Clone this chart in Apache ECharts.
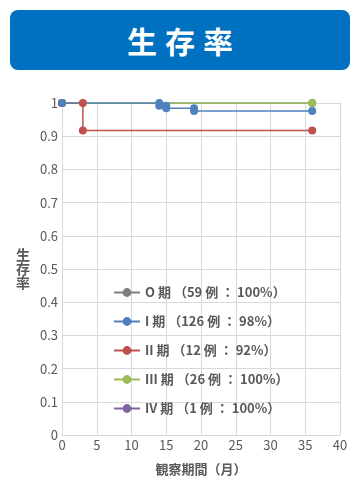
<!DOCTYPE html>
<html><head><meta charset="utf-8">
<script src="https://cdn.jsdelivr.net/npm/echarts@6/dist/echarts.min.js"></script>
<style>
html,body{margin:0;padding:0;background:#fff;}
#wrap{position:relative;width:360px;height:504px;}
#banner{position:absolute;left:10px;top:10px;width:340px;height:60px;background:#0070C0;border-radius:8px;color:#fff;font-family:"Noto Sans CJK JP";font-weight:bold;font-size:30px;line-height:60px;text-align:center;letter-spacing:8px;text-indent:8px;}
#chart{position:absolute;left:0;top:0;width:360px;height:504px;}
</style></head>
<body><div id="wrap"><div id="chart"></div><div id="banner">生存率</div></div>
<script>
const seriesNames = ["O 期 （59 例 ： 100%）","I 期 （126 例 ： 98%）","II 期 （12 例 ： 92%）","III 期 （26 例 ： 100%）","IV 期 （1 例 ： 100%）"];
const colors = ["#7F7F7F","#4F81BD","#C0504D","#9BBB59","#8064A2"];
// Kaplan-Meier step vertices (months, survival)
const stage0Time = [0, 36];
const stage0Surv = [1, 1];
const stage1Time = [0, 14, 14, 15, 15, 19, 19, 36];
const stage1Surv = [1, 1, 0.992, 0.992, 0.984, 0.984, 0.976, 0.976];
const stage2Time = [0, 3, 3, 36];
const stage2Surv = [1, 1, 0.917, 0.917];
const stage3Time = [0, 36];
const stage3Surv = [1, 1];
const stage4Time = [0];
const stage4Surv = [1];
const xTicks = {min:0, max:40, interval:5};
const yTicks = {min:0, max:1, interval:0.1};

const times = [stage0Time, stage1Time, stage2Time, stage3Time, stage4Time];
const survs = [stage0Surv, stage1Surv, stage2Surv, stage3Surv, stage4Surv];
const order = [0, 4, 3, 2, 1];
const chart = echarts.init(document.getElementById('chart'));
const font = '"Noto Sans CJK JP", sans-serif';
chart.setOption({
  animation:false,
  grid:{left:62, right:20, top:103, bottom:69},
  legend:{
    orient:'vertical', left:108, top:281, itemGap:16, itemWidth:26, itemHeight:11,
    data:seriesNames,
    textStyle:{fontFamily:font, fontWeight:'bold', fontSize:13, color:'#595959'}
  },
  xAxis:{type:'value', min:xTicks.min, max:xTicks.max, interval:xTicks.interval,
    name:'観察期間（月）', nameLocation:'middle', nameGap:28,
    nameTextStyle:{fontFamily:font, fontWeight:'bold', fontSize:13, color:'#595959'},
    axisLine:{lineStyle:{color:'#D9D9D9'}}, axisTick:{show:false},
    axisLabel:{fontFamily:font, fontSize:13, color:'#595959', margin:4},
    splitLine:{show:true, lineStyle:{color:'#D9D9D9'}}},
  yAxis:{type:'value', min:yTicks.min, max:yTicks.max, interval:yTicks.interval,
    name:'生\n存\n率', nameLocation:'middle', nameGap:32, nameRotate:0,
    nameTextStyle:{fontFamily:font, fontWeight:'bold', fontSize:14, color:'#595959', lineHeight:14},
    axisLine:{show:true, lineStyle:{color:'#D9D9D9'}}, axisTick:{show:false},
    axisLabel:{fontFamily:font, fontSize:13, color:'#595959', margin:4,
      formatter:v=>String(Math.round(v*10)/10)},
    splitLine:{show:true, lineStyle:{color:'#D9D9D9'}}},
  series: order.map(i=>({
    name:seriesNames[i], type:'line', color:colors[i],
    data:times[i].map((t,k)=>[t,survs[i][k]]),
    symbol:'circle', symbolSize:8, showSymbol:true,
    lineStyle:{width:1.5, color:colors[i]}, itemStyle:{color:colors[i]}
  }))
});
</script></body></html>
